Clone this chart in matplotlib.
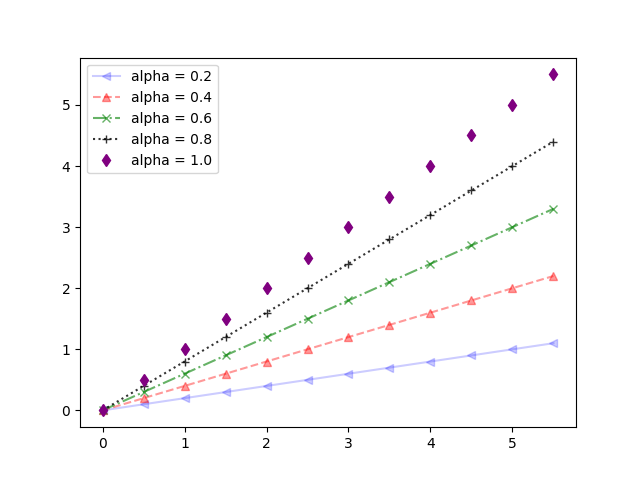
import numpy as np
import matplotlib
matplotlib.use("Agg")
import matplotlib.pyplot as plt

x = [0, 0.5, 1, 1.5, 2, 2.5, 3, 3.5, 4, 4.5, 5, 5.5]
y02 = [0, 0.1, 0.2, 0.3, 0.4, 0.5, 0.6, 0.7, 0.8, 0.9, 1.0, 1.1]
y04 = [0, 0.2, 0.4, 0.6, 0.8, 1.0, 1.2, 1.4, 1.6, 1.8, 2.0, 2.2]
y06 = [0, 0.3, 0.6, 0.9, 1.2, 1.5, 1.8, 2.1, 2.4, 2.7, 3.0, 3.3]
y08 = [0, 0.4, 0.8, 1.2, 1.6, 2.0, 2.4, 2.8, 3.2, 3.6, 4.0, 4.4]
y10 = [0, 0.5, 1.0, 1.5, 2.0, 2.5, 3.0, 3.5, 4.0, 4.5, 5.0, 5.5]

fig, ax = plt.subplots(figsize=(6.4, 4.8), dpi=100)

ax.plot(x, y02, '<-', color='blue', alpha=0.2, label='alpha = 0.2')
ax.plot(x, y04, '^--', color='red', alpha=0.4, label='alpha = 0.4')
ax.plot(x, y06, 'x-.', color='green', alpha=0.6, label='alpha = 0.6')
ax.plot(x, y08, '+:', color='black', alpha=0.8, label='alpha = 0.8')
ax.plot(x, y10, 'd', color='purple', alpha=1.0, label='alpha = 1.0')

ax.legend(loc='upper left')

fig.savefig('out.png')
